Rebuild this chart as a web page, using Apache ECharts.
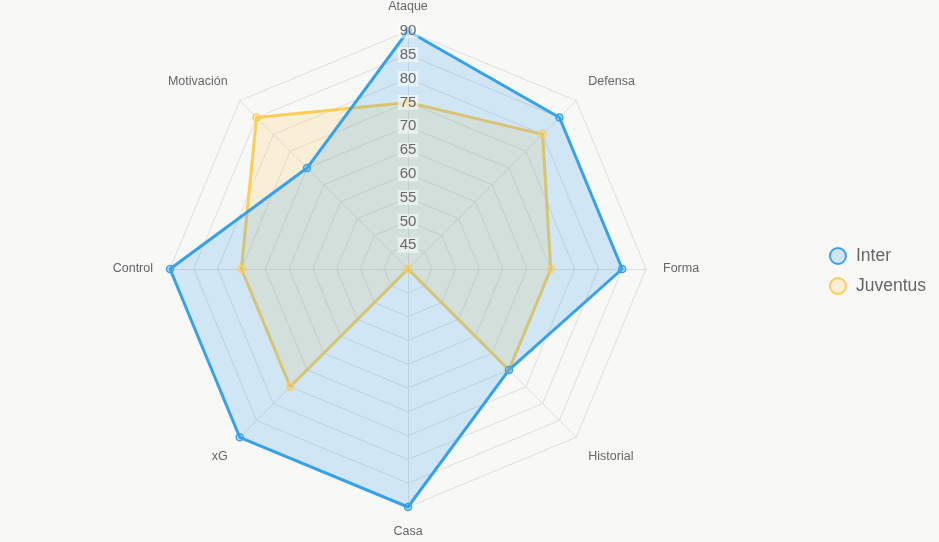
<!DOCTYPE html>
<html>
<head>
<meta charset="utf-8">
<script src="https://cdn.jsdelivr.net/npm/echarts@6/dist/echarts.min.js"></script>
<style>
  html,body{margin:0;padding:0;background:#f8f8f7;}
  #chart{width:939px;height:542px;}
</style>
</head>
<body>
<div id="chart"></div>
<script>
// indicadores del radar (sentido horario desde arriba)
var indicadores = ['Ataque','Defensa','Forma','Historial','Casa','xG','Control','Motivación'];
var equipos = ['Inter','Juventus'];
var valoresInter = [90,85,85,70,90,90,90,70];
var valoresJuventus = [75,80,70,70,40,75,75,85];
var ticks = [45,50,55,60,65,70,75,80,85,90];
var escalaMin = 40, escalaMax = 90;

// echarts coloca los ejes en sentido antihorario: reordenar
var orden = [0,7,6,5,4,3,2,1];
function reordenar(arr){ return orden.map(function(i){return arr[i];}); }

var fuente = '"Liberation Sans", Arial, sans-serif';
var chart = echarts.init(document.getElementById('chart'));
var option = {
  backgroundColor:'#f8f8f7',
  legend:{
    data:equipos,
    orient:'vertical',
    right:8,
    top:'middle',
    icon:'circle',
    itemWidth:16,
    itemHeight:16,
    itemGap:12,
    textStyle:{color:'#666',fontSize:17.5,fontFamily:fuente,padding:[0,0,0,5]}
  },
  radar:{
    center:['43.45%','49.63%'],
    radius:238,
    startAngle:90,
    splitNumber:10,
    shape:'polygon',
    axisName:{show:false},
    indicator:reordenar(indicadores).map(function(n){return {name:n,min:escalaMin,max:escalaMax};}),
    splitArea:{show:false},
    splitLine:{lineStyle:{color:'#dedede',width:1}},
    axisLine:{lineStyle:{color:'#dedede'}},
    axisTick:{show:false},
    axisLabel:{show:false}
  },
  series:[{
    type:'radar',
    symbol:'circle',
    symbolSize:7,
    data:[
      {
        name:'Juventus',
        value:reordenar(valoresJuventus),
        lineStyle:{color:'rgb(255,205,86)',width:3},
        itemStyle:{color:'rgba(255,205,86,0.2)',borderColor:'rgb(255,205,86)',borderWidth:1.5},
        areaStyle:{color:'rgba(255,205,86,0.2)',opacity:1}
      },
      {
        name:'Inter',
        value:reordenar(valoresInter),
        lineStyle:{color:'rgb(54,162,235)',width:3},
        itemStyle:{color:'rgba(54,162,235,0.2)',borderColor:'rgb(54,162,235)',borderWidth:1.5},
        areaStyle:{color:'rgba(54,162,235,0.2)',opacity:1}
      }
    ]
  }]
};
chart.setOption(option);

var radarCS = chart.getModel().getComponent('radar').coordinateSystem;
var cx = radarCS.cx, cy = radarCS.cy;
var graficos = [];

// etiquetas de escala sobre el eje de Ataque
ticks.forEach(function(t){
  var p = radarCS.dataToPoint(t,0);
  graficos.push({
    type:'text', x:p[0], y:p[1], z:100,
    style:{
      text:String(t), fill:'#666', font:'15px '+fuente,
      align:'center', verticalAlign:'middle',
      backgroundColor:'rgba(255,255,255,0.5)', padding:[0,2]
    }
  });
});

// nombres de los indicadores
reordenar(indicadores).forEach(function(n,i){
  var p = radarCS.dataToPoint(escalaMax,i);
  var dx = p[0]-cx, dy = p[1]-cy, len = Math.sqrt(dx*dx+dy*dy);
  var ux = dx/len, uy = dy/len;
  var sy = Math.abs(uy) < 0.1 ? 0 : (uy > 0 ? 1 : -1);
  graficos.push({
    type:'text',
    x:p[0]+ux*17,
    y:p[1]+uy*17.5+sy*7,
    style:{
      text:n, fill:'#666', font:'12.5px '+fuente,
      align: ux > 0.1 ? 'left' : (ux < -0.1 ? 'right' : 'center'),
      verticalAlign:'middle'
    }
  });
});
chart.setOption({graphic:graficos});
</script>
</body>
</html>
